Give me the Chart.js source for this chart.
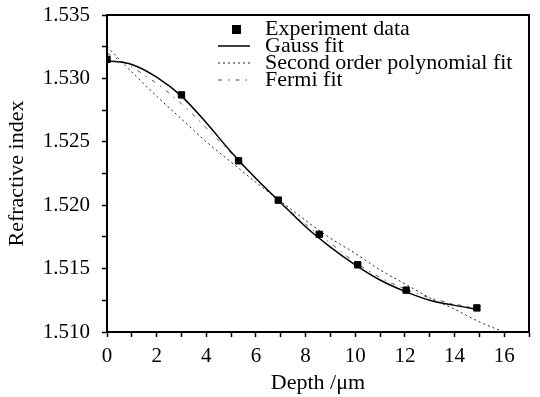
<!DOCTYPE html>
<html>
<head>
<meta charset="utf-8">
<script src="https://cdn.jsdelivr.net/npm/chart.js@4"></script>
<style>
  html, body { margin: 0; padding: 0; background: #fff; }
  #wrap { width: 540px; height: 397px; }
</style>
</head>
<body>
<div id="wrap"><canvas id="chart"></canvas></div>
<script>
// measured points
const expDepth = [0, 3.0, 5.3, 6.9, 8.55, 10.1, 12.05, 14.9];
const expIndex = [1.5315, 1.5287, 1.5235, 1.5204, 1.5177, 1.5153, 1.5133, 1.5119];

// fit curves
const fitDepth = [0, 1, 2, 3, 4, 5, 6, 7, 8, 9, 10, 11, 12, 13, 14, 14.9];
const gaussIndex = [1.5314, 1.5311, 1.5301, 1.5286, 1.5265, 1.5242, 1.5221, 1.5202, 1.5183, 1.5167, 1.5153, 1.5141, 1.5132, 1.5125, 1.5121, 1.5118];
const fermiIndex = [1.5320, 1.5309, 1.5296, 1.5280, 1.5261, 1.5241, 1.5221, 1.5202, 1.5185, 1.5170, 1.5155, 1.5143, 1.5134, 1.5127, 1.5122, 1.5119];

const polyDepth = [0, 1, 2, 3, 4, 5, 6, 7, 8, 9, 10, 11, 12, 13, 14, 15, 16];
const polyIndex = [1.5325, 1.5305, 1.5286, 1.5268, 1.5250, 1.5234, 1.5218, 1.5203, 1.5188, 1.5174, 1.5162, 1.5149, 1.5138, 1.5127, 1.5118, 1.5108, 1.5100];

const xTicks = [0, 2, 4, 6, 8, 10, 12, 14, 16];
const yTicks = ['1.510', '1.515', '1.520', '1.525', '1.530', '1.535'];

const serif = 'Liberation Serif';

function pts(xs, ys) {
    return xs.map((x, i) => ({ x: x, y: ys[i] }));
}

// box around the plot + legend inside the top right corner
const framePlugin = {
    id: 'frame',
    afterDraw(chart) {
        const ctx = chart.ctx;
        const a = chart.chartArea;
        ctx.save();
        ctx.strokeStyle = '#000';
        ctx.lineWidth = 2;
        ctx.strokeRect(a.left, a.top, a.right - a.left, a.bottom - a.top);

        const x0 = a.left + 111;
        const textX = a.left + 158;
        let y = a.top + 14;
        ctx.font = '22px "' + serif + '"';
        ctx.textBaseline = 'middle';
        ctx.fillStyle = '#000';
        chart.data.datasets.forEach(ds => {
            if (ds.showLine === false) {
                ctx.fillRect(x0 + 14, y - 4, 9, 9);
            } else {
                ctx.beginPath();
                ctx.setLineDash(ds.borderDash || []);
                ctx.strokeStyle = ds.borderColor;
                ctx.lineWidth = ds.borderWidth;
                ctx.moveTo(x0, y);
                ctx.lineTo(x0 + 32, y);
                ctx.stroke();
                ctx.setLineDash([]);
            }
            ctx.fillText(ds.label, textX, y);
            y += 17;
        });
        ctx.restore();
    }
};

new Chart(document.getElementById('chart'), {
    type: 'scatter',
    data: {
        datasets: [{
            label: 'Experiment data',
            data: pts(expDepth, expIndex),
            showLine: false,
            pointStyle: 'rect',
            pointRadius: 4.5,
            backgroundColor: '#000',
            borderColor: '#000',
            order: 0
        }, {
            label: 'Gauss fit',
            data: pts(fitDepth, gaussIndex),
            showLine: true,
            borderColor: '#000',
            borderWidth: 1.5,
            pointRadius: 0,
            cubicInterpolationMode: 'monotone',
            order: 1
        }, {
            label: 'Second order polynomial fit',
            data: pts(polyDepth, polyIndex),
            showLine: true,
            borderColor: '#222',
            borderWidth: 1,
            borderDash: [2, 3],
            pointRadius: 0,
            cubicInterpolationMode: 'monotone',
            order: 2
        }, {
            label: 'Fermi fit',
            data: pts(fitDepth, fermiIndex),
            showLine: true,
            borderColor: '#555',
            borderWidth: 1,
            borderDash: [4, 6, 1.5, 6],
            pointRadius: 0,
            cubicInterpolationMode: 'monotone',
            order: 3
        }]
    },
    options: {
        responsive: true,
        maintainAspectRatio: false,
        animation: false,
        layout: { padding: { top: 15, right: 11, left: 0, bottom: 0 } },
        plugins: {
            legend: { display: false },
            tooltip: { enabled: false }
        },
        scales: {
            x: {
                type: 'linear',
                min: 0,
                max: 17,
                afterFit: s => { s.height = 65; s.paddingLeft = 0; s.paddingRight = 0; },
                border: { display: true, color: '#000', width: 2 },
                grid: { drawOnChartArea: false, drawTicks: true, tickLength: 5, color: '#000', tickWidth: 1.5 },
                ticks: {
                    stepSize: 1,
                    autoSkip: false,
                    maxRotation: 0,
                    padding: 7,
                    color: '#000',
                    font: { family: serif, size: 21 },
                    callback: v => xTicks.includes(v) ? String(v) : ''
                },
                title: {
                    display: true,
                    text: 'Depth /\u03bcm',
                    color: '#000',
                    font: { family: serif, size: 22 },
                    padding: { top: 0, bottom: 1 }
                }
            },
            y: {
                type: 'linear',
                min: 1.510,
                max: 1.535,
                afterFit: s => { s.width = 107; s.paddingTop = 0; s.paddingBottom = 0; },
                border: { display: true, color: '#000', width: 2 },
                grid: { drawOnChartArea: false, drawTicks: true, tickLength: 5, color: '#000', tickWidth: 1.5 },
                ticks: {
                    stepSize: 0.0025,
                    autoSkip: false,
                    padding: 12,
                    color: '#000',
                    font: { family: serif, size: 21 },
                    callback: v => {
                        const s = v.toFixed(3);
                        return (Math.round(v * 10000) % 50 === 0 && yTicks.includes(s)) ? s : '';
                    }
                },
                title: {
                    display: true,
                    text: 'Refractive index',
                    color: '#000',
                    font: { family: serif, size: 22 },
                    padding: { top: 4, bottom: 0 }
                }
            }
        }
    },
    plugins: [framePlugin]
});
</script>
</body>
</html>
